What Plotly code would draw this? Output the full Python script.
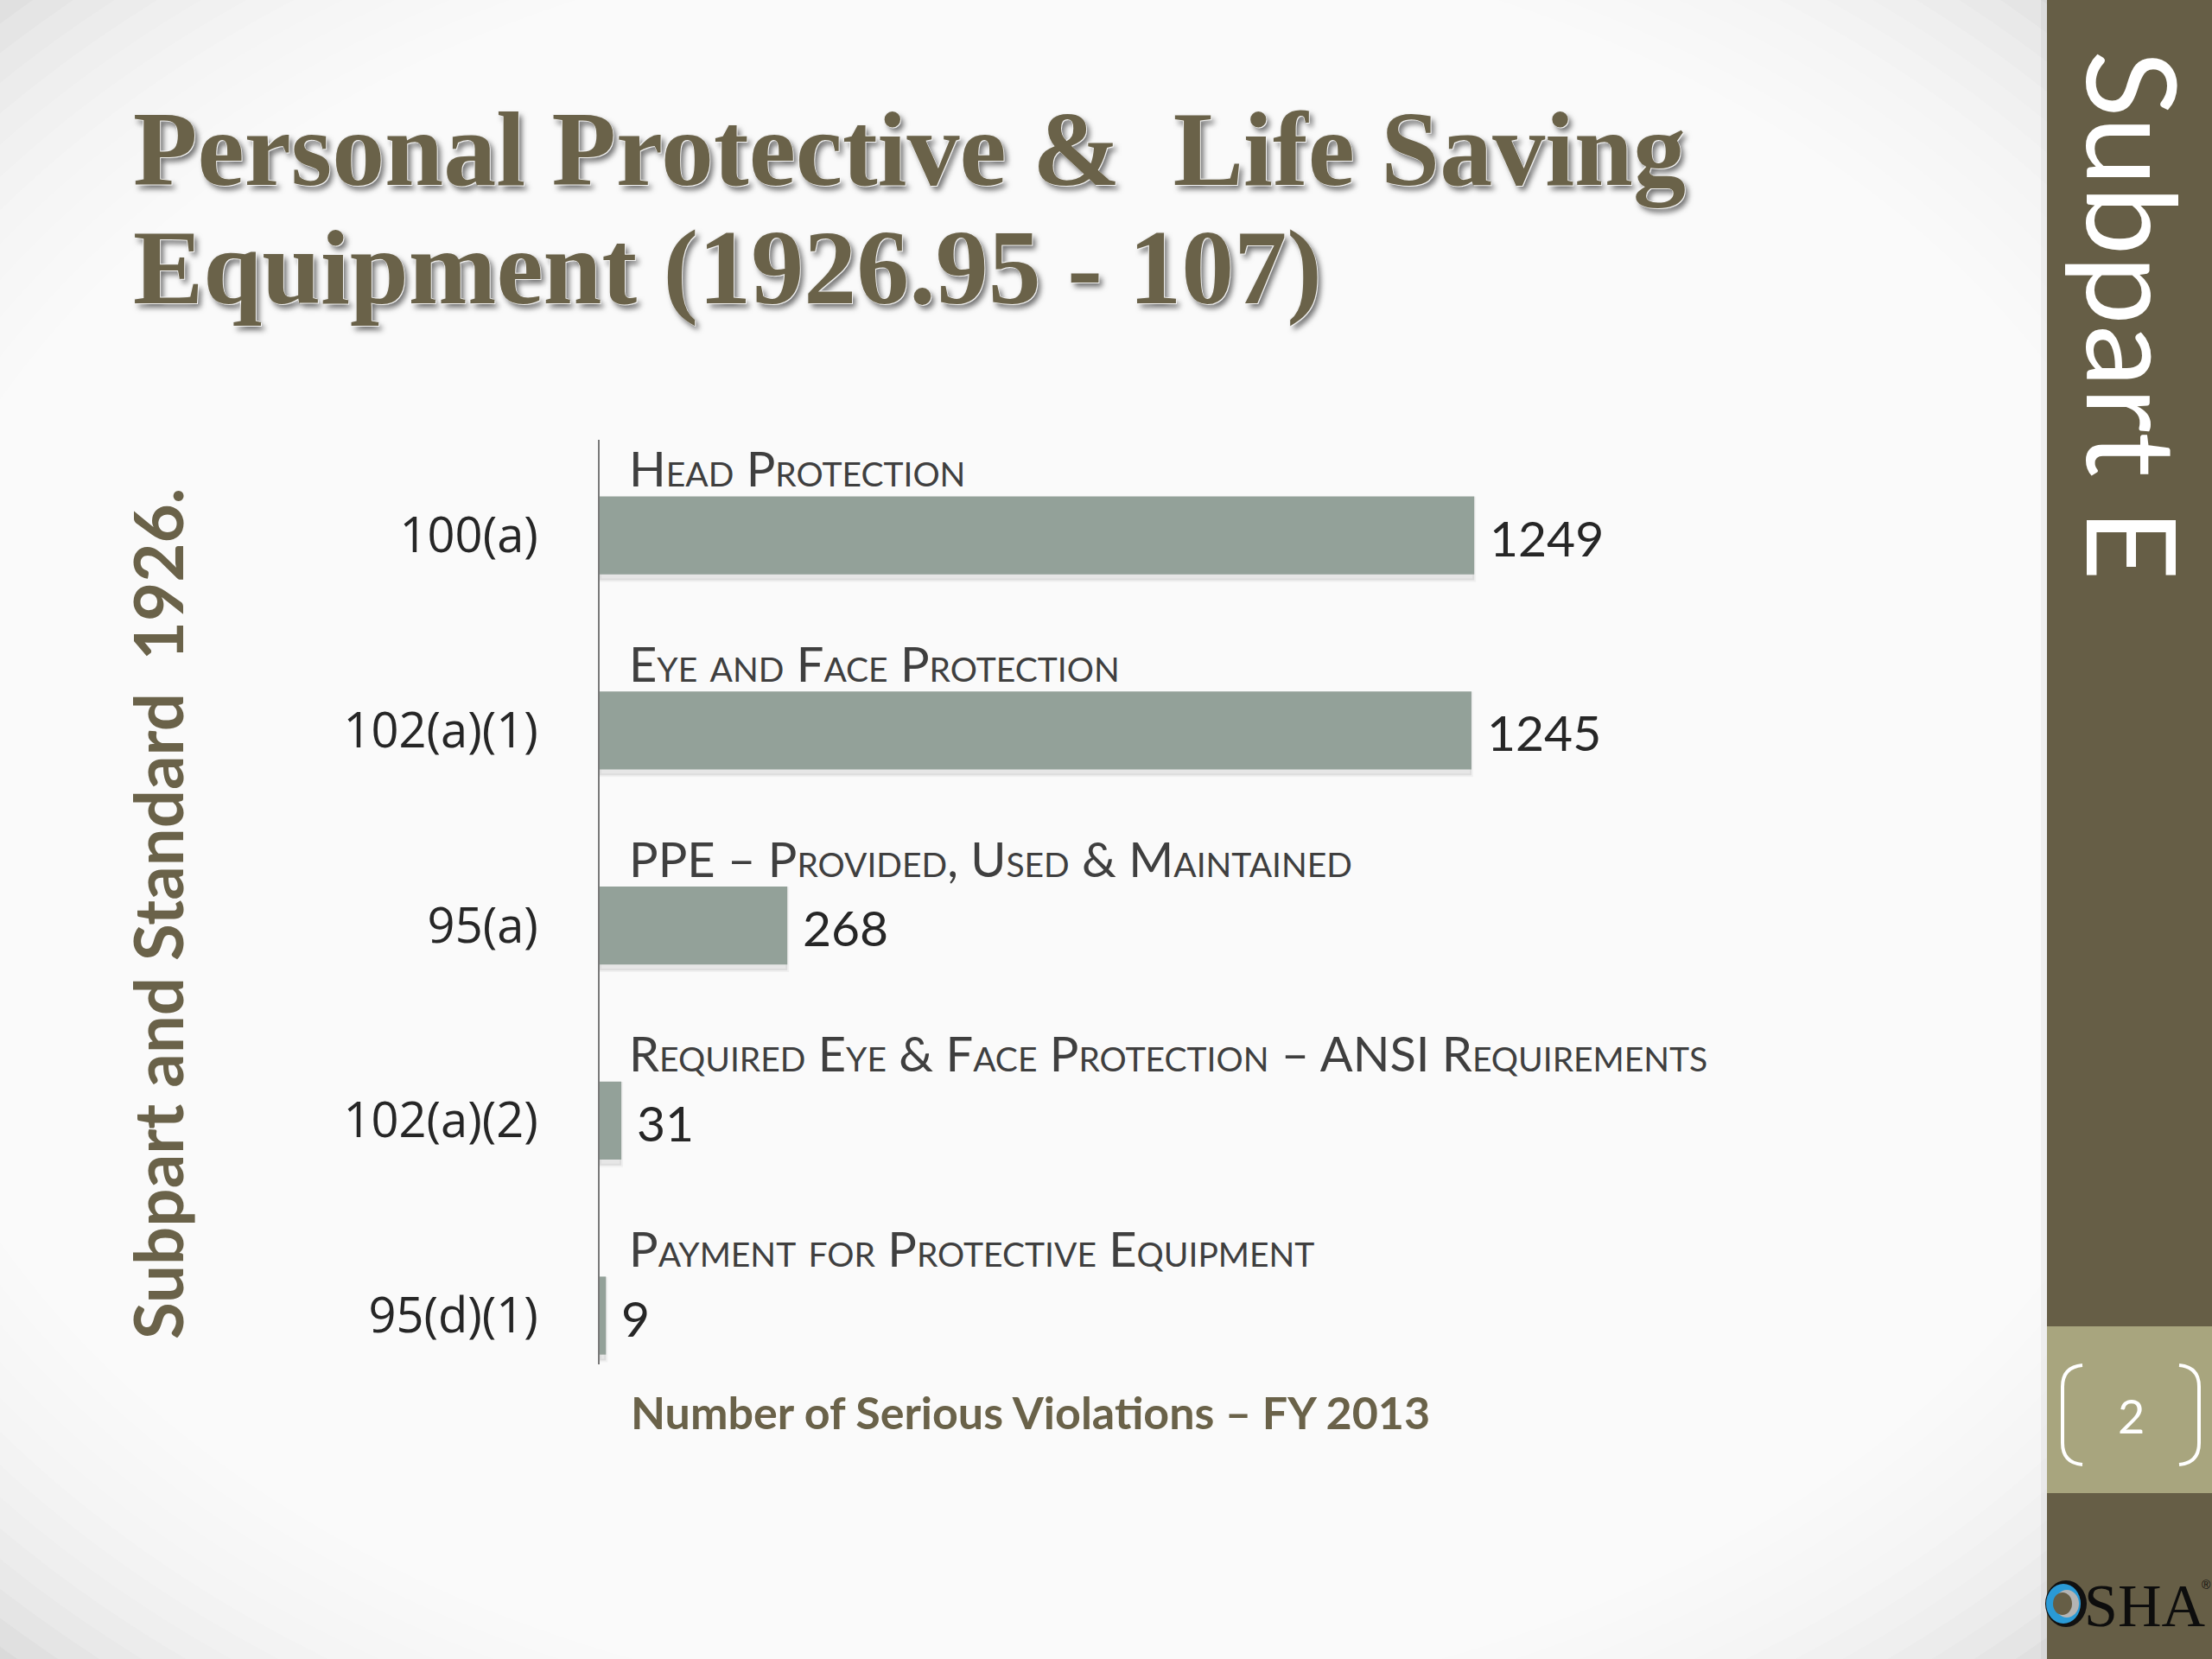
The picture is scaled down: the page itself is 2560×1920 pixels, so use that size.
import plotly.graph_objects as go
import numpy as np

W, H = 2560, 1920

# ---- data ----
codes = ["100(a)", "102(a)(1)", "95(a)", "102(a)(2)", "95(d)(1)"]
descriptions = [
    "Head Protection",
    "Eye and Face Protection",
    "PPE – Provided, Used & Maintained",
    "Required Eye & Face Protection – ANSI Requirements",
    "Payment for Protective Equipment",
]
violations = [1249, 1245, 268, 31, 9]
title_lines = ["Personal Protective &\u00a0 Life Saving", "Equipment (1926.95 - 107)"]
y_title = "Subpart and Standard\u00a0 1926."
x_title = "Number of Serious Violations – FY 2013"
side_title = "Subpart E"
page_number = "2"

OLIVE = "#6a6249"
SIDEBAR = "#665e46"
BAND = "#a8a57e"
BAR = "#93a199"


def px(x):
    return x / W


def py(y):
    return 1 - y / H


fig = go.Figure()

# bar shadow
fig.add_trace(go.Bar(
    x=violations, y=codes, orientation="h",
    width=0.42, offset=-0.19,
    marker=dict(color="rgba(0,0,0,0.08)", line=dict(width=4, color="rgba(0,0,0,0.04)")),
    hoverinfo="skip",
))
# bars
fig.add_trace(go.Bar(
    x=violations, y=codes, orientation="h",
    width=0.4, offset=-0.2,
    marker=dict(color=BAR, line=dict(width=0)),
))

shapes = []
# vignette background
cx, cy = 1200, 950
for s in np.linspace(1.2, 0.7, 24):
    rx, ry = 1450 * s, 1100 * s
    shapes.append(dict(type="circle", xref="paper", yref="paper",
                       x0=px(cx - rx), x1=px(cx + rx), y0=py(cy + ry), y1=py(cy - ry),
                       fillcolor="white", opacity=0.16, line=dict(width=0), layer="below"))
# sidebar
shapes.append(dict(type="rect", xref="paper", yref="paper", x0=px(2362), x1=px(2369), y0=0, y1=1,
                   fillcolor="rgba(0,0,0,0.04)", line=dict(width=0), layer="below"))
shapes.append(dict(type="rect", xref="paper", yref="paper", x0=px(2369), x1=1, y0=0, y1=1,
                   fillcolor=SIDEBAR, line=dict(width=0), layer="below"))
shapes.append(dict(type="rect", xref="paper", yref="paper", x0=px(2369), x1=1, y0=py(1728), y1=py(1535),
                   fillcolor=BAND, line=dict(width=0), layer="below"))

# brackets around page number
lb = (f"M {px(2410)},{py(1580)} Q {px(2387)},{py(1582)} {px(2387)},{py(1605)} "
      f"L {px(2387)},{py(1670)} Q {px(2387)},{py(1693)} {px(2410)},{py(1695)}")
rb = (f"M {px(2522)},{py(1580)} Q {px(2545)},{py(1582)} {px(2545)},{py(1605)} "
      f"L {px(2545)},{py(1670)} Q {px(2545)},{py(1693)} {px(2522)},{py(1695)}")
for p in (lb, rb):
    shapes.append(dict(type="path", xref="paper", yref="paper", path=p,
                       line=dict(color="white", width=4)))

# OSHA logo "O"
for (x0, x1, y0, y1, c) in [
    (2367, 2415, 1829, 1883, "#111111"),
    (2368, 2408, 1833, 1879, "#2a9ad6"),
    (2378, 2406, 1840, 1872, "#b4b4b4"),
    (2376, 2398, 1843, 1869, SIDEBAR),
]:
    shapes.append(dict(type="circle", xref="paper", yref="paper",
                       x0=px(x0), x1=px(x1), y0=py(y1), y1=py(y0),
                       fillcolor=c, line=dict(width=0)))

annotations = []
# title
title_font = dict(family="Liberation Serif", size=122, color=OLIVE, weight="bold",
                  shadow="1px 1px 0px #f2f2f2, -1px -1px 0px #f2f2f2, 4px 5px 6px rgba(0,0,0,0.55)")
for line, yc in zip(title_lines, [173, 310]):
    annotations.append(dict(text=line, xref="paper", yref="paper", x=px(152), y=py(yc),
                            xanchor="left", yanchor="middle", showarrow=False, font=title_font))

# descriptions above bars
for code, desc in zip(codes, descriptions):
    annotations.append(dict(text=desc, xref="x", yref="y", x=0, y=code,
                            xanchor="left", yanchor="middle", xshift=32, yshift=78,
                            showarrow=False,
                            font=dict(family="Lato", size=56, color="#3f3f3f", variant="small-caps")))
# value labels
for code, v in zip(codes, violations):
    annotations.append(dict(text=str(v), xref="x", yref="y", x=v, y=code,
                            xanchor="left", yanchor="middle", xshift=16, yshift=-2,
                            showarrow=False,
                            font=dict(family="Lato", size=57, color="#262626")))

# axis titles
annotations.append(dict(text=y_title, xref="paper", yref="paper", x=px(182), y=py(1058),
                        xanchor="center", yanchor="middle", textangle=-90, showarrow=False,
                        font=dict(family="Lato", size=78, color=OLIVE, weight="bold")))
annotations.append(dict(text=x_title, xref="paper", yref="paper", x=px(728), y=py(1634),
                        xanchor="left", yanchor="middle", showarrow=False,
                        font=dict(family="Lato", size=52, color=OLIVE, weight="bold")))

# sidebar texts
annotations.append(dict(text=side_title, xref="paper", yref="paper", x=px(2470), y=py(365),
                        xanchor="center", yanchor="middle", textangle=90, showarrow=False,
                        font=dict(family="Lato", size=144, color="white")))
annotations.append(dict(text=page_number, xref="paper", yref="paper", x=px(2466), y=py(1638),
                        xanchor="center", yanchor="middle", showarrow=False,
                        font=dict(family="Lato", size=54, color="white")))
annotations.append(dict(text="SHA", xref="paper", yref="paper", x=px(2410), y=py(1858),
                        xanchor="left", yanchor="middle", showarrow=False,
                        font=dict(family="Liberation Serif", size=70, color="#0d0d0d")))
annotations.append(dict(text="®", xref="paper", yref="paper", x=px(2553), y=py(1834),
                        xanchor="center", yanchor="middle", showarrow=False,
                        font=dict(family="Liberation Sans", size=14, color="#0d0d0d")))

fig.update_layout(
    width=W, height=H,
    margin=dict(l=0, r=0, t=0, b=0),
    paper_bgcolor="#dadada",
    plot_bgcolor="rgba(0,0,0,0)",
    showlegend=False,
    barmode="overlay",
    shapes=shapes,
    annotations=annotations,
    xaxis=dict(domain=[px(694), px(694 + 1215.6)], range=[0, 1500], visible=False, fixedrange=True),
    yaxis=dict(domain=[py(1579), py(509)], type="category", categoryorder="array", categoryarray=codes,
               range=[4.25, -0.49], showline=True, linecolor="#7a7a7a", linewidth=2,
               showgrid=False, zeroline=False, ticks="", ticklabelstandoff=58,
               tickfont=dict(family="Open Sans", size=56, color="#262626")),
)

fig.write_html("out.html", config={"displayModeBar": False},
               post_script="document.body.style.margin='0';document.body.style.overflow='hidden';")
